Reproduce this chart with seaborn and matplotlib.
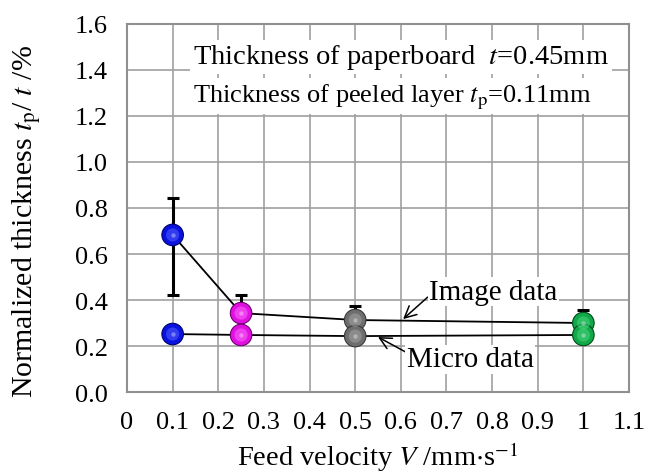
import numpy as np
import pandas as pd
import matplotlib
matplotlib.use("Agg")
import matplotlib.pyplot as plt
import seaborn as sns

velocity = [0.1, 0.25, 0.5, 1.0]
image_data = [0.683, 0.343, 0.313, 0.300]
image_err_low = [0.26, 0.0, 0.0, 0.0]
image_err_high = [0.16, 0.077, 0.061, 0.057]
micro_data = [0.252, 0.248, 0.243, 0.248]
point_colors = ["#0a12e0", "#e010e0", "#6e6e6e", "#10a848"]
light_colors = ["#5a64ff", "#ff70ff", "#a8a8a8", "#50d884"]
edge_colors = ["#000070", "#700070", "#383838", "#004a1c"]

sns.set_theme(style="whitegrid")
plt.rcParams["font.family"] = ["Liberation Serif", "DejaVu Serif"]
plt.rcParams["mathtext.fontset"] = "stix"

fig = plt.figure(figsize=(6.49, 4.77), dpi=100)
ax = fig.add_axes([127/649, 1-393/477, (629-127)/649, (393-25)/477])

df_img = pd.DataFrame({"V": velocity, "y": image_data})
df_mic = pd.DataFrame({"V": velocity, "y": micro_data})

sns.lineplot(data=df_img, x="V", y="y", color="black", lw=1.3, ax=ax, zorder=3)
sns.lineplot(data=df_mic, x="V", y="y", color="black", lw=1.3, ax=ax, zorder=3)
ax.errorbar(velocity, image_data, yerr=[image_err_low, image_err_high], fmt="none",
            ecolor="black", elinewidth=2.2, capsize=4, capthick=2.2, zorder=2)

for ys in (image_data, micro_data):
    df = pd.DataFrame({"V": velocity, "y": ys, "c": point_colors})
    sns.scatterplot(data=df, x="V", y="y", hue="c", palette=dict(zip(point_colors, point_colors)),
                    s=240, edgecolor=edge_colors, linewidth=0.8, legend=False, ax=ax, zorder=4)
    ax.scatter(velocity, ys, s=90, c=light_colors, alpha=0.5, linewidths=0, zorder=5)
    ax.scatter(velocity, ys, s=10, c="white", alpha=0.35, linewidths=0, zorder=6)

ax.set_xlim(0, 1.1)
ax.set_ylim(0, 1.6)
ax.set_xticks(np.round(np.arange(0, 1.11, 0.1), 1))
ax.set_xticklabels(["0", "0.1", "0.2", "0.3", "0.4", "0.5", "0.6", "0.7", "0.8", "0.9", "1", "1.1"])
ax.set_yticks(np.round(np.arange(0, 1.61, 0.2), 1))
ax.set_yticklabels([f"{v:.1f}" for v in np.arange(0, 1.61, 0.2)])
ax.tick_params(axis="x", labelsize=19, colors="black", pad=14, length=0)
ax.tick_params(axis="y", labelsize=19, colors="black", pad=14, length=0)
ax.grid(True, color="#a0a0a0", lw=1.2)
for s in ax.spines.values():
    s.set_color("#909090")
    s.set_linewidth(1.5)

ax.set_xlabel(r"Feed velocity $\mathit{V}$ /mm$\cdot$s$^{-1}$", fontsize=20.5, color="black")
ax.set_ylabel(r"Normalized thickness $\mathit{t}_{\rm p}$/ $\mathit{t}$ /%", fontsize=21.5, color="black")
ax.xaxis.set_label_coords(0.5, -(457-393)/368, transform=ax.transAxes)
ax.yaxis.set_label_coords(-(127-27)/502, 0.467, transform=ax.transAxes)
ax.xaxis.label.set_va("center")
ax.yaxis.label.set_va("center")

ax.text(0.145, 1.457, r"Thickness of paperboard  $\mathit{t}$=0.45mm", fontsize=20.5, color="black",
        va="center", ha="left", zorder=7,
        bbox=dict(facecolor="white", edgecolor="none", pad=2))
ax.text(0.145, 1.287, r"Thickness of peeled layer $\mathit{t}_{\rm p}$=0.11mm", fontsize=19, color="black",
        va="center", ha="left", zorder=7,
        bbox=dict(facecolor="white", edgecolor="none", pad=2))

ax.annotate("Image data", xy=(0.605, 0.317), xytext=(0.662, 0.435), fontsize=21, color="black",
            ha="left", va="center", zorder=7,
            bbox=dict(facecolor="white", edgecolor="none", pad=1),
            arrowprops=dict(arrowstyle="->", color="black", lw=1.1, shrinkA=0, shrinkB=0,
                            relpos=(0, 0.35)))
ax.annotate("Micro data", xy=(0.55, 0.239), xytext=(0.613, 0.143), fontsize=21, color="black",
            ha="left", va="center", zorder=7,
            bbox=dict(facecolor="white", edgecolor="none", pad=1),
            arrowprops=dict(arrowstyle="->", color="black", lw=1.1, shrinkA=0, shrinkB=0,
                            relpos=(0, 0.75)))

fig.savefig("out.png", dpi=100)
